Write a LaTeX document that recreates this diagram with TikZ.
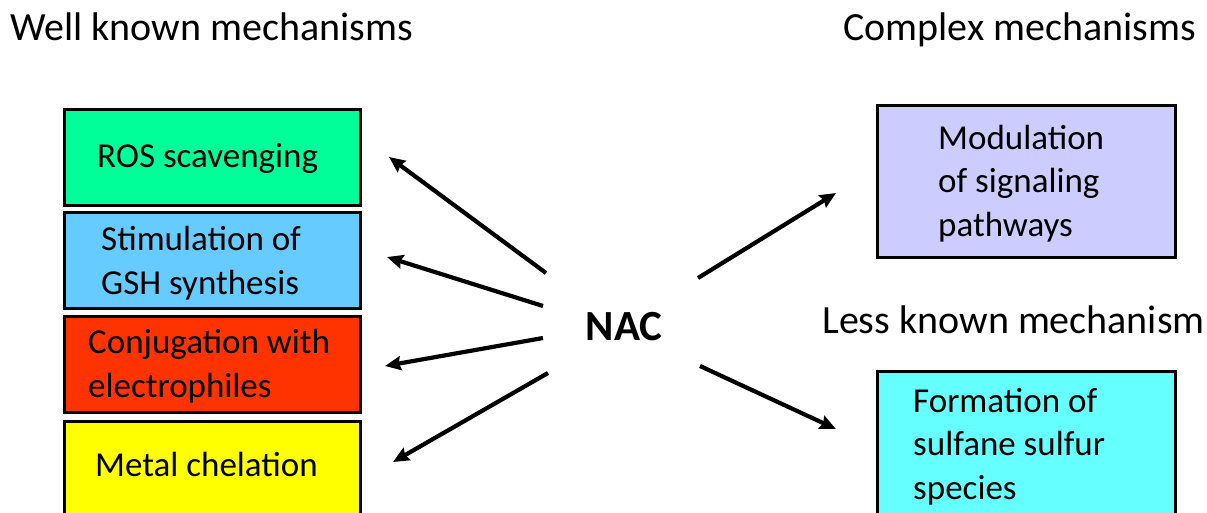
\documentclass[tikz,border=0pt]{standalone}
\usepackage{fontspec}
\setmainfont{Carlito}
\usetikzlibrary{arrows.meta}
\definecolor{rosgreen}{RGB}{0,255,153}
\definecolor{gshblue}{RGB}{102,204,255}
\definecolor{conjred}{RGB}{255,51,0}
\definecolor{metyellow}{RGB}{255,255,0}
\definecolor{modlav}{RGB}{204,204,255}
\definecolor{formcyan}{RGB}{102,255,255}
\begin{document}
\begin{tikzpicture}[x=1pt,y=-1pt,
  box/.style={draw=black, line width=3pt, rectangle, inner sep=0pt},
  lbl/.style={anchor=base west, align=left, inner sep=0pt, font=\fontsize{35}{43.5}\selectfont},
  ttl/.style={anchor=base west, inner sep=0pt, font=\fontsize{40}{48}\selectfont},
  arr/.style={line width=4.2pt, -{Stealth[length=16pt,width=14pt,inset=2pt]}}]
\useasboundingbox (0,0) rectangle (1207,512);
\clip (0,0) rectangle (1207,512);
% boxes
\node[box, fill=rosgreen, minimum width=296pt, minimum height=96pt] (ros) at (212.5,157) {};
\node[box, fill=gshblue, minimum width=296pt, minimum height=96pt] (gsh) at (212.5,260) {};
\node[box, fill=conjred, minimum width=296pt, minimum height=96pt] (conj) at (212.5,364) {};
\node[box, fill=metyellow, minimum width=296pt, minimum height=109pt] (metal) at (212.5,475.5) {};
\node[box, fill=modlav, minimum width=298pt, minimum height=152pt] (mod) at (1026,181) {};
\node[box, fill=formcyan, minimum width=298pt, minimum height=159pt] (form) at (1026,450.5) {};
% texts (base anchor = baseline of last line)
\node[lbl] (rost) at (97,167) {ROS scavenging};
\node[lbl] (gsht) at (101,294) {Stimulation of\\GSH synthesis};
\node[lbl] (conjt) at (88,397) {Conjugation with\\electrophiles};
\node[lbl] (metalt) at (95,476) {Metal chelation};
\node[lbl] (modt) at (938,236) {Modulation\\of signaling\\pathways};
\node[lbl] (formt) at (913,499) {Formation of\\sulfane sulfur\\species};
\node[ttl] (well) at (10,40) {Well known mechanisms};
\node[ttl] (complex) at (843,40) {Complex mechanisms};
\node[ttl] (less) at (822,333) {Less known mechanism};
\node[anchor=base, inner sep=0pt, font=\fontsize{43}{50}\selectfont\bfseries] (nac) at (624,340) {NAC};
% arrow end points
\coordinate (s1) at (546,273); \coordinate (e1) at (389,157);
\coordinate (s2) at (543,306); \coordinate (e2) at (387,257);
\coordinate (s3) at (543,338); \coordinate (e3) at (385,366);
\coordinate (s4) at (548,373); \coordinate (e4) at (393,462);
\coordinate (s5) at (698,278); \coordinate (e5) at (836,193);
\coordinate (s6) at (700,366); \coordinate (e6) at (836,429);
\draw[arr] (s1) -- (e1);
\draw[arr] (s2) -- (e2);
\draw[arr] (s3) -- (e3);
\draw[arr] (s4) -- (e4);
\draw[arr] (s5) -- (e5);
\draw[arr] (s6) -- (e6);
\end{tikzpicture}
\end{document}
